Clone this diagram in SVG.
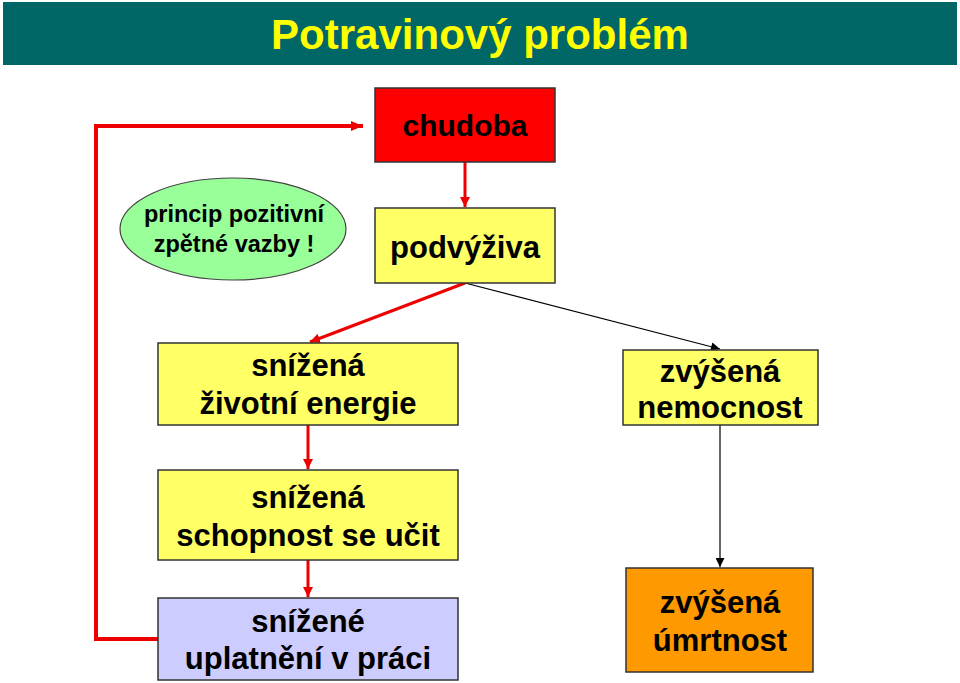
<svg xmlns="http://www.w3.org/2000/svg" width="960" height="683" viewBox="0 0 960 683">
<defs>
<marker id="ar" viewBox="0 0 10 10" refX="10" refY="5" markerWidth="10" markerHeight="10" markerUnits="userSpaceOnUse" orient="auto"><path d="M0,0 L10,5 L0,10 z" fill="#ee0000"/></marker>
<marker id="arL" viewBox="0 0 12 10" refX="12" refY="5" markerWidth="12" markerHeight="10" markerUnits="userSpaceOnUse" orient="auto"><path d="M0,0 L12,5 L0,10 z" fill="#ee0000"/></marker>
<marker id="ab" viewBox="0 0 10 10" refX="10" refY="5" markerWidth="10" markerHeight="9" markerUnits="userSpaceOnUse" orient="auto"><path d="M0,0 L10,5 L0,10 z" fill="#000"/></marker>
</defs>
<style>
.box{stroke:#333;stroke-width:1.5}
.t{font-family:"Liberation Sans",Arial,sans-serif;font-weight:bold;text-anchor:middle;fill:#000}
.red{stroke:#ee0000;fill:none}
.blk{stroke:#000;fill:none;stroke-width:1.2}
</style>
<rect x="3" y="2" width="954" height="63" fill="#006666"/>
<text x="480" y="49" class="t" style="font-size:42px;fill:#ffff00">Potravinový problém</text>
<g id="connectors">
<path class="red" stroke-width="4" d="M158,639 H96 V126 H363" marker-end="url(#arL)"/>
<path class="red" stroke-width="3" d="M465,162 V207" marker-end="url(#ar)"/>
<path class="red" stroke-width="3" d="M465,283 L310,342" marker-end="url(#ar)"/>
<path class="blk" d="M465,283 L720,349" marker-end="url(#ab)"/>
<path class="red" stroke-width="3" d="M308,425 V469" marker-end="url(#ar)"/>
<path class="red" stroke-width="3" d="M308,560 V597" marker-end="url(#ar)"/>
<path class="blk" d="M720,425 V567" marker-end="url(#ab)"/>
</g>
<g id="chudoba">
<rect class="box" x="375" y="88" width="180" height="74" fill="#ff0000"/>
<text class="t" x="465" y="136" style="font-size:30px">chudoba</text>
</g>
<g id="princip">
<ellipse cx="233" cy="229" rx="113" ry="51" fill="#99ff99" stroke="#444" stroke-width="1.2"/>
<text class="t" x="234" y="222" style="font-size:23.5px">princip pozitivní</text>
<text class="t" x="234" y="252" style="font-size:23.5px">zpětné vazby !</text>
</g>
<g id="podvyziva">
<rect class="box" x="375" y="208" width="180" height="75" fill="#ffff66"/>
<text class="t" x="465" y="258" style="font-size:31px">podvýživa</text>
</g>
<g id="energie">
<rect class="box" x="158" y="343" width="300" height="82" fill="#ffff66"/>
<text class="t" x="308" y="376" style="font-size:31px">snížená</text>
<text class="t" x="308" y="414" style="font-size:31px">životní energie</text>
</g>
<g id="nemocnost">
<rect class="box" x="623" y="350" width="195" height="75" fill="#ffff66"/>
<text class="t" x="720" y="382" style="font-size:31px">zvýšená</text>
<text class="t" x="720" y="418" style="font-size:31px">nemocnost</text>
</g>
<g id="ucit">
<rect class="box" x="158" y="470" width="300" height="90" fill="#ffff66"/>
<text class="t" x="308" y="508" style="font-size:31px">snížená</text>
<text class="t" x="308" y="546" style="font-size:31px">schopnost se učit</text>
</g>
<g id="uplatneni">
<rect class="box" x="158" y="598" width="300" height="82" fill="#ccccff"/>
<text class="t" x="308" y="632" style="font-size:31px">snížené</text>
<text class="t" x="308" y="669" style="font-size:31px">uplatnění v práci</text>
</g>
<g id="umrtnost">
<rect class="box" x="626" y="568" width="187" height="104" fill="#ff9900"/>
<text class="t" x="720" y="613" style="font-size:31px">zvýšená</text>
<text class="t" x="720" y="651" style="font-size:31px">úmrtnost</text>
</g>
</svg>
